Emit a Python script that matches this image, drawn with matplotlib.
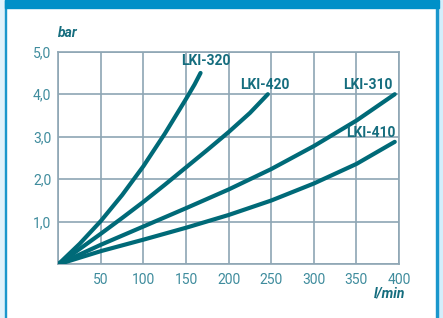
import matplotlib.pyplot as plt
from matplotlib.patches import Rectangle
from matplotlib.ticker import FuncFormatter

# flow (l/min) vs pressure drop (bar)
flow_320 = [0, 25, 50, 75, 100, 125, 150, 160, 167]
bar_320 = [0, 0.48, 1.02, 1.63, 2.31, 3.07, 3.89, 4.23, 4.50]

flow_420 = [0, 25, 50, 75, 100, 125, 150, 175, 200, 225, 246]
bar_420 = [0, 0.36, 0.72, 1.09, 1.47, 1.87, 2.28, 2.69, 3.11, 3.56, 4.0]

flow_310 = [0, 50, 100, 150, 200, 250, 300, 350, 395]
bar_310 = [0, 0.46, 0.89, 1.32, 1.76, 2.24, 2.78, 3.38, 4.0]

flow_410 = [0, 50, 100, 150, 200, 250, 300, 350, 395]
bar_410 = [0, 0.31, 0.58, 0.86, 1.16, 1.50, 1.90, 2.36, 2.88]

x_ticks = [0, 50, 100, 150, 200, 250, 300, 350, 400]
y_ticks = [0, 1, 2, 3, 4, 5]

labels = ["LKI-320", "LKI-420", "LKI-310", "LKI-410"]
label_pos = [(173, 4.77), (243, 4.22), (363, 4.22), (367, 3.08)]

line_col = "#006a78"
text_col = "#156d7e"
tick_col = "#3f8c9d"
grid_col = "#8ea6b4"

plt.rcParams['font.family'] = ['Roboto', 'DejaVu Sans']

fig = plt.figure(figsize=(4.43, 3.18), dpi=100)
W, H = 443, 318

# frame decoration around the white panel
fig.patches.append(Rectangle((0, 0), 4.5 / W, 1, transform=fig.transFigure,
                             color="#dff2fb", zorder=0))
fig.patches.append(Rectangle((4.5 / W, 0), 1.8 / W, 1, transform=fig.transFigure,
                             color="#1a97cc", zorder=0))
fig.patches.append(Rectangle((438.3 / W, 0), 1 - 438.3 / W, 1, transform=fig.transFigure,
                             color="#d3eefb", zorder=0))
fig.patches.append(Rectangle((436.3 / W, 0), 2 / W, 1, transform=fig.transFigure,
                             color="#1a97cc", zorder=0))
fig.patches.append(Rectangle((4.5 / W, 1 - 8.3 / H), 434 / W, 8.3 / H,
                             transform=fig.transFigure, color="#0090c8", zorder=0))

ax = fig.add_axes([58.3 / W, 1 - 264.3 / H, (399 - 58.3) / W, (264.3 - 51.7) / H])
ax.set_facecolor("white")

for q, p in [(flow_320, bar_320), (flow_420, bar_420),
             (flow_310, bar_310), (flow_410, bar_410)]:
    ax.plot(q, p, color=line_col, lw=3.0, solid_capstyle='round',
            solid_joinstyle='round', zorder=3)

for name, (x, y) in zip(labels, label_pos):
    ax.text(x, y, name, color=text_col, fontsize=10, fontweight='bold',
            ha='center', va='center', zorder=4)

ax.set_xlim(0, 400)
ax.set_ylim(0, 5)
ax.set_xticks(x_ticks)
ax.set_yticks(y_ticks)
ax.xaxis.set_major_formatter(FuncFormatter(lambda v, _: "" if v == 0 else f"{v:.0f}"))
ax.yaxis.set_major_formatter(FuncFormatter(lambda v, _: "" if v == 0 else f"{v:.1f}".replace(".", ",")))
ax.tick_params(length=0, labelsize=10, colors=tick_col)
ax.tick_params(axis='x', pad=6)
ax.tick_params(axis='y', pad=5)
ax.grid(True, color=grid_col, lw=1.2)
for s in ax.spines.values():
    s.set_color(grid_col)
    s.set_linewidth(1.2)

fig.text(68 / W, 1 - 33 / H, "bar", color=text_col, fontsize=10,
         fontweight='bold', fontstyle='italic', ha='center', va='center')
fig.text(389.5 / W, 1 - 293.5 / H, "l/min", color=text_col, fontsize=10,
         fontweight='bold', fontstyle='italic', ha='center', va='center')

fig.savefig("out.png", dpi=100)
